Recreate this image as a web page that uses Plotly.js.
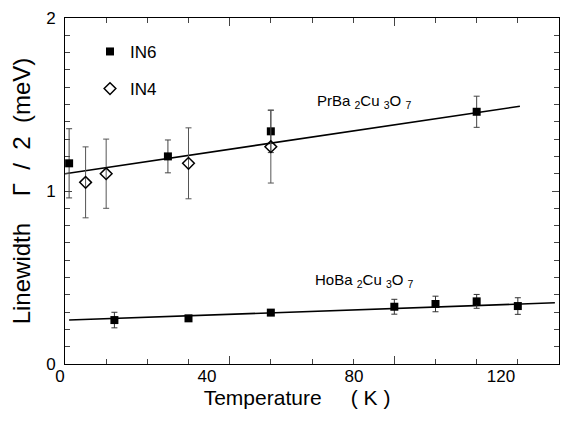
<!DOCTYPE html>
<html>
<head>
<meta charset="utf-8">
<script src="https://cdn.plot.ly/plotly-3.0.1.min.js"></script>
<style>html,body{margin:0;padding:0;background:#fff;}#chart{width:582px;height:430px;}</style>
</head>
<body>
<div id="chart"></div>
<script>
// PrBa2Cu3O7, IN6 data
var prIN6T = [1, 25, 50, 100];
var prIN6W = [1.16, 1.20, 1.345, 1.458];
var prIN6E = [0.20, 0.095, 0.123, 0.09];
// PrBa2Cu3O7, IN4 data
var prIN4T = [5, 10, 30, 50];
var prIN4W = [1.05, 1.10, 1.16, 1.256];
var prIN4E = [0.205, 0.20, 0.205, 0.21];
// HoBa2Cu3O7, IN6 data
var hoIN6T = [12, 30, 50, 80, 90, 100, 110];
var hoIN6W = [0.254, 0.264, 0.297, 0.331, 0.347, 0.362, 0.335];
var hoIN6E = [0.045, 0, 0, 0.043, 0.045, 0.04, 0.048];
// linear fits
var prFitT = [0, 110.5];
var prFitW = [1.10, 1.49];
var hoFitT = [1, 119];
var hoFitW = [0.254, 0.354];
// tick labels
var xTickVals = [0, 40, 80, 120];
var yTickVals = [0, 1, 2];

var FONT = 'Liberation Sans, Arial, Helvetica, sans-serif';
var NB = '\u00a0';
var CLEAR = 'rgba(0,0,0,0)';

var traces = [
  {x: prFitT, y: prFitW, mode: 'lines', line: {color: '#000', width: 1.6}, showlegend: false, hoverinfo: 'skip'},
  {x: hoFitT, y: hoFitW, mode: 'lines', line: {color: '#000', width: 1.6}, showlegend: false, hoverinfo: 'skip'},
  {x: prIN6T, y: prIN6W, mode: 'markers', name: 'IN6', legendgroup: 'IN6',
   marker: {symbol: 'square', size: 8, color: '#000'},
   error_y: {type: 'data', array: prIN6E, visible: true, color: '#444', thickness: 1, width: 3}},
  {x: hoIN6T, y: hoIN6W, mode: 'markers', name: 'IN6', legendgroup: 'IN6', showlegend: false,
   marker: {symbol: 'square', size: 8, color: '#000'},
   error_y: {type: 'data', array: hoIN6E, visible: true, color: '#333', thickness: 1, width: 3}},
  {x: prIN4T, y: prIN4W, mode: 'markers', name: 'IN4', legendgroup: 'IN4',
   marker: {symbol: 'diamond-open', size: 9, color: '#000', line: {width: 1.5, color: '#000'}},
   error_y: {type: 'data', array: prIN4E, visible: true, color: '#555', thickness: 1, width: 3}},
  // empty helper trace so that the tick-label axis is drawn
  {x: [], y: [], xaxis: 'x2', yaxis: 'y', showlegend: false, hoverinfo: 'skip'}
];

var L = 20, R = 23, T = 18, B = 66;
var pw = 582 - L - R;
var xdom = [(65 - L) / pw, 1];
var layout = {
  width: 582, height: 430,
  margin: {l: L, r: R, t: T, b: B, pad: 0},
  paper_bgcolor: '#fff', plot_bgcolor: CLEAR,
  font: {family: FONT, color: '#000', size: 17},
  showlegend: true,
  legend: {x: (90 - L) / pw, y: 0.954, xanchor: 'left', yanchor: 'top',
           font: {family: FONT, size: 17, color: '#000'}, bgcolor: CLEAR,
           traceorder: 'grouped', tracegroupgap: 12},
  xaxis: {domain: xdom, range: [0, 120], gridcolor: CLEAR, zerolinecolor: CLEAR,
          showline: true, linecolor: '#000', mirror: 'ticks',
          ticks: 'inside', tick0: 0, dtick: 40, ticklen: 8,
          showticklabels: false,
          minor: {dtick: 10, ticks: 'inside', ticklen: 5}},
  xaxis2: {anchor: 'y', domain: [(41.6 - L) / pw, (552.5 - L) / pw],
           range: [-5, 134], tickvals: xTickVals, ticktext: xTickVals.map(String),
           showgrid: false, zeroline: false, showline: false, ticks: '',
           tickfont: {family: FONT, size: 17, color: '#000'},
           title: {text: 'Temperature' + NB + NB + NB + NB + NB + '(' + NB + 'K' + NB + ')',
                   font: {family: FONT, size: 21, color: '#000'}, standoff: 4}},
  yaxis: {anchor: 'x', range: [0, 2], gridcolor: CLEAR, zerolinecolor: CLEAR,
          showline: true, linecolor: '#000', mirror: 'ticks',
          ticks: 'inside', tickvals: yTickVals, ticklen: 7,
          tickfont: {family: FONT, size: 17, color: '#000'}, ticklabelstandoff: 5,
          minor: {dtick: 0.1, ticks: 'inside', ticklen: 5},
          title: {text: 'Linewidth' + NB + NB + NB + NB + '\u0393' + NB + NB + '/' + NB + NB + '2' + NB + NB + '(meV)' + NB + NB + NB + NB + NB,
                  font: {family: FONT, size: 24, color: '#000'}, standoff: 8}},
  annotations: [
    {x: 60.7, y: 1.52, xref: 'x', yref: 'y', xanchor: 'left', yanchor: 'middle', showarrow: false,
     text: 'PrBa <sub>2</sub>Cu <sub>3</sub>O <sub>7</sub>', font: {family: FONT, size: 15, color: '#000'}},
    {x: 60.2, y: 0.48, xref: 'x', yref: 'y', xanchor: 'left', yanchor: 'middle', showarrow: false,
     text: 'HoBa <sub>2</sub>Cu <sub>3</sub>O <sub>7</sub>', font: {family: FONT, size: 15, color: '#000'}}
  ]
};

Plotly.newPlot('chart', traces, layout, {displayModeBar: false, staticPlot: true});
</script>
</body>
</html>
